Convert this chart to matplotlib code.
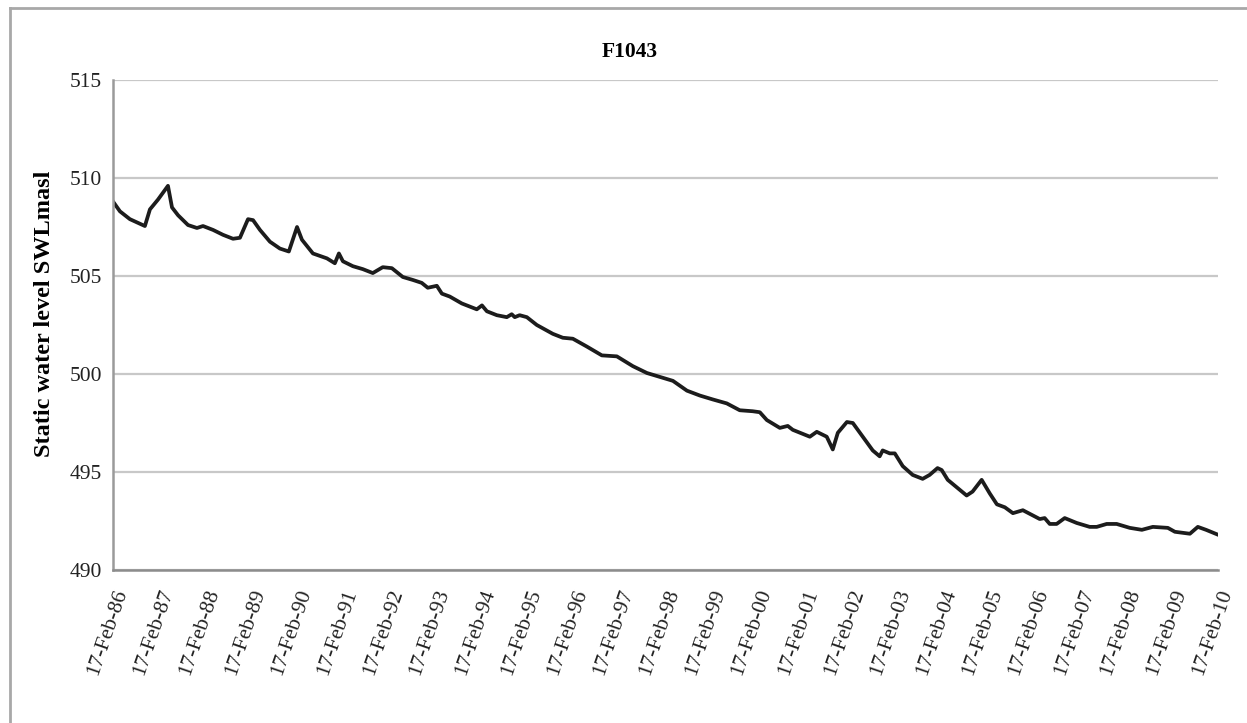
import matplotlib
matplotlib.use("Agg")
import matplotlib.pyplot as plt
import matplotlib.dates as mdates
from matplotlib.lines import Line2D
import pandas as pd

plt.rcParams["font.family"] = ["Liberation Serif", "DejaVu Serif"]

TITLE = "F1043"
Y_LABEL = "Static water level SWLmasl"

# readings of the static water level (m above sea level)
dates = [
    "1986-02-17", "1986-04-13", "1986-07-01", "1986-10-28", "1986-12-07",
    "1987-02-09", "1987-04-29", "1987-05-31", "1987-07-18", "1987-10-05",
    "1987-12-15", "1988-02-01", "1988-04-21", "1988-07-09", "1988-09-26",
    "1988-11-20", "1989-01-23", "1989-03-04", "1989-04-28", "1989-07-16",
    "1989-10-03", "1989-12-13", "1990-02-16", "1990-03-27", "1990-06-22",
    "1990-10-11", "1990-12-13", "1991-01-14", "1991-02-15", "1991-05-05",
    "1991-07-23", "1991-10-10", "1991-12-28", "1992-03-09", "1992-06-04",
    "1992-08-22", "1992-11-01", "1992-12-19", "1993-03-01", "1993-04-10",
    "1993-06-12", "1993-09-15", "1994-01-12", "1994-02-22", "1994-04-02",
    "1994-06-20", "1994-09-07", "1994-10-16", "1994-11-09", "1994-12-18",
    "1995-02-13", "1995-05-03", "1995-09-07", "1995-11-25", "1996-02-13",
    "1996-06-03", "1996-09-30", "1997-01-27", "1997-06-03", "1997-09-23",
    "1998-01-04", "1998-04-17", "1998-08-06", "1998-11-17", "1999-02-28",
    "1999-06-18", "1999-09-29", "2000-01-10", "2000-03-06", "2000-05-01",
    "2000-08-12", "2000-10-14", "2000-11-23", "2001-04-07", "2001-06-01",
    "2001-08-19", "2001-10-06", "2001-11-15", "2002-01-26", "2002-03-14",
    "2002-06-01", "2002-08-19", "2002-10-13", "2002-11-06", "2003-01-01",
    "2003-02-10", "2003-04-14", "2003-07-02", "2003-09-19", "2003-11-13",
    "2004-01-15", "2004-02-17", "2004-04-05", "2004-09-02", "2004-10-19",
    "2004-12-30", "2005-03-05", "2005-04-30", "2005-07-02", "2005-09-04",
    "2005-11-22", "2006-04-05", "2006-05-14", "2006-06-23", "2006-08-17",
    "2006-10-20", "2007-01-23", "2007-05-06", "2007-07-01", "2007-09-18",
    "2007-12-06", "2008-03-19", "2008-06-23", "2008-09-18", "2009-01-15",
    "2009-03-12", "2009-07-09", "2009-09-10", "2009-11-14", "2010-02-17",
]
swl = [
    508.8, 508.3, 507.9, 507.55, 508.4,
    508.9, 509.6, 508.5, 508.1, 507.6,
    507.45, 507.55, 507.35, 507.1, 506.9,
    506.95, 507.9, 507.85, 507.35, 506.75,
    506.4, 506.25, 507.5, 506.85, 506.15,
    505.9, 505.65, 506.15, 505.75, 505.5,
    505.35, 505.15, 505.45, 505.4, 504.95,
    504.8, 504.65, 504.4, 504.5, 504.1,
    503.95, 503.6, 503.3, 503.5, 503.2,
    503.0, 502.9, 503.05, 502.9, 503.0,
    502.9, 502.5, 502.05, 501.85, 501.8,
    501.4, 500.95, 500.9, 500.4, 500.05,
    499.85, 499.65, 499.15, 498.9, 498.7,
    498.5, 498.15, 498.1, 498.05, 497.65,
    497.25, 497.35, 497.15, 496.8, 497.05,
    496.8, 496.15, 497.0, 497.55, 497.5,
    496.8, 496.1, 495.8, 496.1, 495.95,
    495.95, 495.3, 494.85, 494.65, 494.85,
    495.2, 495.1, 494.6, 493.8, 494.0,
    494.6, 493.9, 493.35, 493.2, 492.9,
    493.05, 492.6, 492.65, 492.35, 492.35,
    492.65, 492.4, 492.2, 492.2, 492.35,
    492.35, 492.15, 492.05, 492.2, 492.15,
    491.95, 491.85, 492.2, 492.05, 491.8,
]
tick_years = list(range(1986, 2011))
y_ticks = [490, 495, 500, 505, 510, 515]


def main() -> None:
    x = pd.to_datetime(dates)
    ticks = pd.to_datetime([f"{yr}-02-17" for yr in tick_years])

    fig = plt.figure(figsize=(12.47, 7.23), dpi=100)
    ax = fig.add_axes([113 / 1247, 1 - 570 / 723, (1218 - 113) / 1247, (570 - 80) / 723])

    ax.plot(x, swl, color="#1c1c1c", linewidth=2.7, solid_joinstyle="round")

    ax.set_xlim(ticks[0], ticks[-1])
    ax.set_ylim(490, 515)
    ax.set_yticks(y_ticks)
    ax.set_xticks(ticks)
    ax.xaxis.set_major_formatter(mdates.DateFormatter("17-Feb-%y"))
    ax.grid(axis="y", color="#c8c8c8", linewidth=1.6)
    ax.set_axisbelow(True)

    for side in ("top", "right"):
        ax.spines[side].set_visible(False)
    ax.spines["left"].set_color("#9a9a9a")
    ax.spines["left"].set_linewidth(1.8)
    ax.spines["bottom"].set_color("#8c8c8c")
    ax.spines["bottom"].set_linewidth(1.8)

    ax.tick_params(axis="both", length=0, labelsize=15.5, colors="#222222")
    ax.tick_params(axis="y", pad=8)
    ax.tick_params(axis="x", pad=12)
    for label in ax.get_xticklabels():
        label.set_rotation(71)
        label.set_ha("right")
        label.set_va("top")
        label.set_rotation_mode("anchor")
        label.set_fontsize(15.5)

    fig.text(630 / 1247, 1 - 52 / 723, TITLE, ha="center", va="center",
             fontsize=15.5, fontweight="bold")
    fig.text(45 / 1247, 1 - 314 / 723, Y_LABEL, ha="center", va="center",
             rotation=90, fontsize=17.5, fontweight="bold")

    # outer frame, only left and top edges visible in the source
    fig.add_artist(Line2D([10 / 1247, 10 / 1247], [0, 1 - 8 / 723],
                          transform=fig.transFigure, color="#a8a8a8", linewidth=2))
    fig.add_artist(Line2D([10 / 1247, 1], [1 - 8 / 723, 1 - 8 / 723],
                          transform=fig.transFigure, color="#a8a8a8", linewidth=2))

    fig.savefig("out.png", dpi=100)
    plt.close(fig)


if __name__ == "__main__":
    main()
